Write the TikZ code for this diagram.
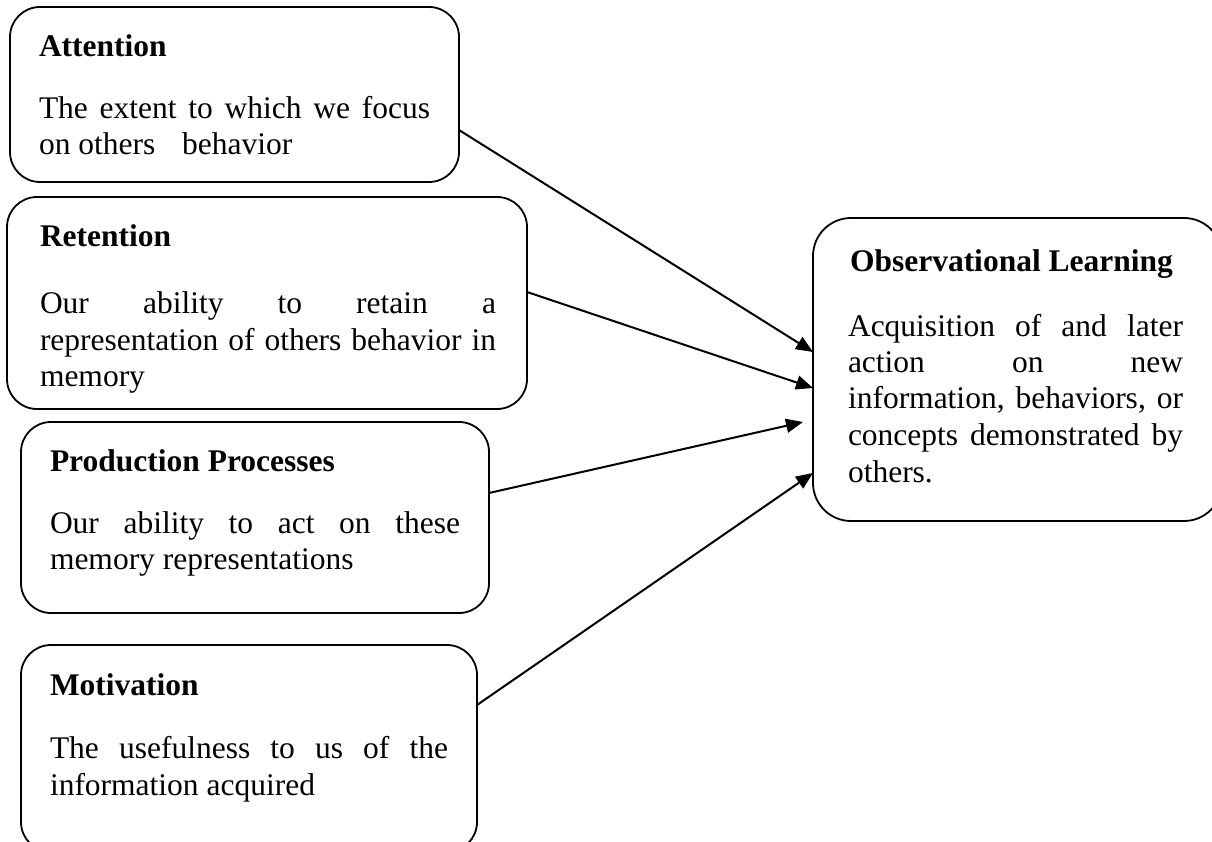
\documentclass[tikz,border=0pt]{standalone}
\usepackage{fontspec}
\setmainfont{Liberation Serif}
\usetikzlibrary{arrows.meta}
\begin{document}
\begin{tikzpicture}[x=1pt,y=-1pt,
  box/.style={draw, line width=1.8pt, rounded corners=30pt, inner sep=0pt, outer sep=0pt},
  bigbox/.style={box, rounded corners=38pt},
  ttl/.style={anchor=base west, inner sep=0pt, outer sep=0pt, font=\fontsize{31.5}{37}\selectfont\bfseries},
  txt/.style={anchor=base west, inner sep=0pt, outer sep=0pt, font=\fontsize{31.5}{37}\selectfont},
  conn/.style={line width=2pt, -{Triangle[length=17pt,width=14pt]}}]
\useasboundingbox (0,0) rectangle (1212,842);
\fill[white] (0,0) rectangle (1212,842);
\clip (0,0) rectangle (1212,842);

% boxes
\node[box, minimum width=449pt, minimum height=175pt] (att) at (234.5,94.5) {};
\node[box, minimum width=520pt, minimum height=212pt] (ret) at (267,303) {};
\node[box, minimum width=468pt, minimum height=191pt] (prod) at (255,517.5) {};
\node[box, minimum width=456pt, minimum height=207pt] (mot) at (249,748.5) {};
\node[bigbox, minimum width=409pt, minimum height=303pt] (obs) at (1017.5,369.5) {};

% Attention
\node[ttl] (att-t) at (39,57) {Attention};
\node[txt] (att-1) at (39,119) {\makebox[391pt][s]{The extent to which we focus}};
\node[txt] (att-2) at (39,155) {on others\hspace{19pt} behavior};

% Retention
\node[ttl] (ret-t) at (40,247) {Retention};
\node[txt] (ret-1) at (40,313) {\makebox[456pt][s]{Our ability to retain a}};
\node[txt] (ret-2) at (40,350) {\makebox[456pt][s]{representation of others behavior in}};
\node[txt] (ret-3) at (40,386) {memory};

% Production
\node[ttl] (prod-t) at (50,471) {Production Processes};
\node[txt] (prod-1) at (50,533) {\makebox[410pt][s]{Our ability to act on these}};
\node[txt] (prod-2) at (50,569) {memory representations};

% Motivation
\node[ttl] (mot-t) at (50,695) {Motivation};
\node[txt] (mot-1) at (50,758) {\makebox[398pt][s]{The usefulness to us of the}};
\node[txt] (mot-2) at (50,795) {information acquired};

% Observational Learning
\node[ttl] (obs-t) at (850,272) {Observational Learning};
\node[txt] (obs-1) at (848,336) {\makebox[335pt][s]{Acquisition of and later}};
\node[txt] (obs-2) at (848,372) {\makebox[335pt][s]{action on new}};
\node[txt] (obs-3) at (848,408) {\makebox[335pt][s]{information, behaviors, or}};
\node[txt] (obs-4) at (848,445) {\makebox[335pt][s]{concepts demonstrated by}};
\node[txt] (obs-5) at (848,482) {others.};

% connectors
\coordinate (prod-end) at (803,422);
\draw[conn] (att.east |- 0,130) -- (obs.west |- 0,352);
\draw[conn] (ret.east |- 0,292) -- (obs.west |- 0,388);
\draw[conn] (prod.east |- 0,493) -- (prod-end);
\draw[conn] (mot.east |- 0,705) -- (obs.west |- 0,473);
\end{tikzpicture}
\end{document}
